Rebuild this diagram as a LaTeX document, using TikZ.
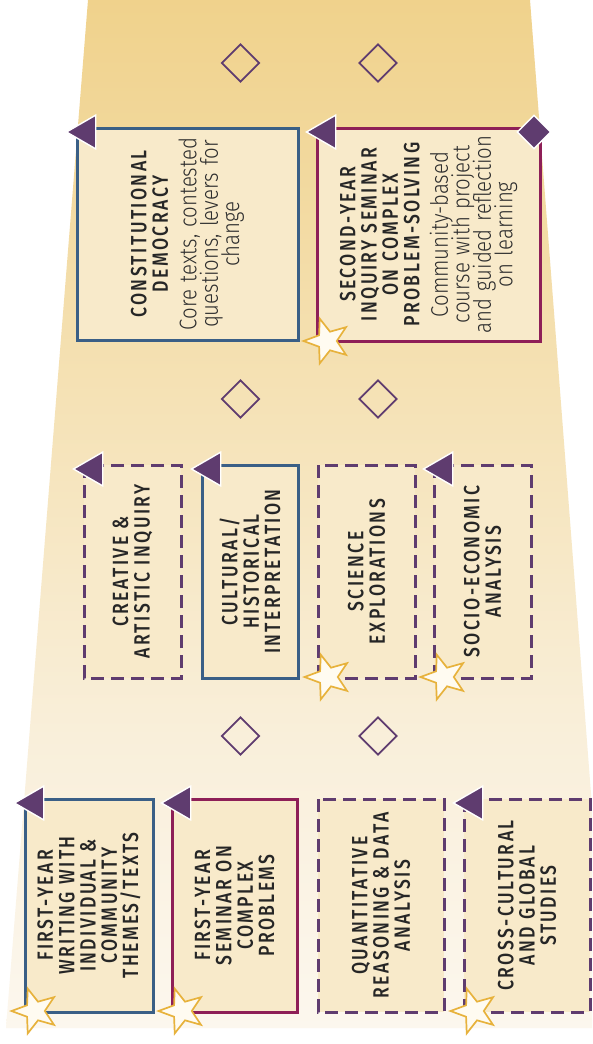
\documentclass[tikz,border=0pt]{standalone}
\usepackage{fontspec}
\setmainfont{Fira Sans}
\newfontfamily\hfont{Fira Sans Medium}[FakeStretch=0.8,LetterSpace=11]
\newfontfamily\bfontfam{Fira Sans Light}[FakeStretch=0.85]
\usetikzlibrary{shapes.geometric}
\definecolor{bgtop}{HTML}{F0D28C}
\definecolor{bgA}{HTML}{F5E2B6}
\definecolor{bgB}{HTML}{F9EFDA}
\definecolor{bgbot}{HTML}{FCF7EE}
\definecolor{boxfill}{HTML}{F8EACA}
\definecolor{cblue}{HTML}{3A5F86}
\definecolor{ccrim}{HTML}{8E1F57}
\definecolor{cpurp}{HTML}{5F3C6F}
\definecolor{cstar}{HTML}{E7B23C}
\definecolor{cstarfill}{HTML}{FFFBF1}
\definecolor{ctext}{HTML}{262626}
\definecolor{cbody}{HTML}{2E2E2E}
\newcommand\bl{\par\vspace{6.9pt}\bfontfam\fontsize{24}{21.6}\selectfont\color{cbody}}
\newcommand\tightlines{\lineskiplimit=-100pt\relax\lineskip=0pt\relax}
\pgfdeclareverticalshading{bgshade}{100bp}{color(0bp)=(bgbot); color(25bp)=(bgbot); color(39.2bp)=(bgB); color(55.5bp)=(bgA); color(75bp)=(bgtop); color(100bp)=(bgtop)}
\tikzset{
  cbox/.style={rectangle, fill=boxfill, line width=3pt, inner sep=0pt, rotate=90, text=ctext,
    text width=200pt, align=center,
    font=\hfont\fontsize{22}{21.3}\selectfont,
    execute at begin node=\tightlines},
  solidblue/.style={cbox, draw=cblue},
  solidcrim/.style={cbox, draw=ccrim},
  dashbox/.style={cbox, draw=cpurp, dash pattern=on 13pt off 7pt},
  tri/.style={regular polygon, regular polygon sides=3, shape border rotate=90, fill=cpurp,
    draw=white, line width=1.4pt, minimum size=39pt, inner sep=0pt},
  startag/.style={star, star points=5, star point ratio=2.4, shape border rotate=90,
    fill=cstarfill, draw=cstar, line width=1.7pt, minimum size=47pt, inner sep=0pt},
  hdiam/.style={diamond, draw=cpurp, line width=1.8pt, minimum size=38pt, inner sep=0pt},
  fdiam/.style={diamond, fill=cpurp, draw=white, line width=1.4pt, minimum size=34pt, inner sep=0pt},
}
\begin{document}
\begin{tikzpicture}[x=1pt,y=-1pt]
\useasboundingbox (0,0) rectangle (592,1044);
\fill[white] (0,0) rectangle (592,1044);
\begin{scope}
\clip (0,0) rectangle (592,1044);
\shade[shading=bgshade] (88,0) -- (530,0) -- (609,1028) -- (6,1028) -- cycle;
\end{scope}

% hollow diamonds
\node[hdiam] (d1a) at (240.5,63) {};
\node[hdiam] (d1b) at (378,63) {};
\node[hdiam] (d2a) at (240.5,399) {};
\node[hdiam] (d2b) at (378,399) {};
\node[hdiam] (d3a) at (240.5,736) {};
\node[hdiam] (d3b) at (378,736) {};

% row 1
\node[solidblue, minimum width=212pt, minimum height=221pt] (cd) at (187.5,234)
  {CONSTITUTIONAL\\DEMOCRACY\bl Core texts, contested\\questions, levers for\\change};
\node[solidcrim, minimum width=213pt, minimum height=223pt] (sy) at (428.5,234.5)
  {SECOND-YEAR\\INQUIRY SEMINAR\\ON COMPLEX\\PROBLEM-SOLVING\bl Community-based\\course with project\\and guided reflection\\on learning};

% row 2
\node[dashbox, minimum width=213pt, minimum height=97pt] (cr) at (132.5,571.5)
  {CREATIVE \&\\ARTISTIC INQUIRY};
\node[solidblue, minimum width=213pt, minimum height=96pt] (cu) at (250,571.5)
  {CULTURAL/\\HISTORICAL\\INTERPRETATION};
\node[dashbox, minimum width=213pt, minimum height=97pt] (sc) at (366.5,571.5)
  {SCIENCE\\EXPLORATIONS};
\node[dashbox, minimum width=213pt, minimum height=97pt] (so) at (482.5,571.5)
  {SOCIO-ECONOMIC\\ANALYSIS};

% row 3
\node[solidblue, minimum width=213pt, minimum height=128pt] (fw) at (89,905.5)
  {FIRST-YEAR\\WRITING WITH\\INDIVIDUAL \&\\COMMUNITY\\THEMES/TEXTS};
\node[solidcrim, minimum width=213pt, minimum height=125pt] (fs) at (234.5,905.5)
  {FIRST-YEAR\\SEMINAR ON\\COMPLEX\\PROBLEMS};
\node[dashbox, minimum width=213pt, minimum height=126pt] (qr) at (381,905.5)
  {QUANTITATIVE\\REASONING \& DATA\\ANALYSIS};
\node[dashbox, minimum width=213pt, minimum height=126pt] (cc) at (527,905.5)
  {CROSS-CULTURAL\\AND GLOBAL\\STUDIES};

% triangles
\node[tri] (tcd) at (86,132) {};
\node[tri] (tsy) at (326,132) {};
\node[tri] (tcr) at (93,469) {};
\node[tri] (tcu) at (211,469) {};
\node[tri] (tso) at (443,469) {};
\node[tri] (tfw) at (34,803) {};
\node[tri] (tfs) at (181,803) {};
\node[tri] (tcc) at (473,803) {};

% filled diamond
\node[fdiam] (dsy) at (534,132) {};

% stars
\node[startag] (ssy) at (327,341) {};
\node[startag] (ssc) at (328,677) {};
\node[startag] (sso) at (444,677) {};
\node[startag] (sfw) at (35,1011) {};
\node[startag] (sfs) at (182,1011) {};
\node[startag] (scc) at (474,1011) {};
\end{tikzpicture}
\end{document}
